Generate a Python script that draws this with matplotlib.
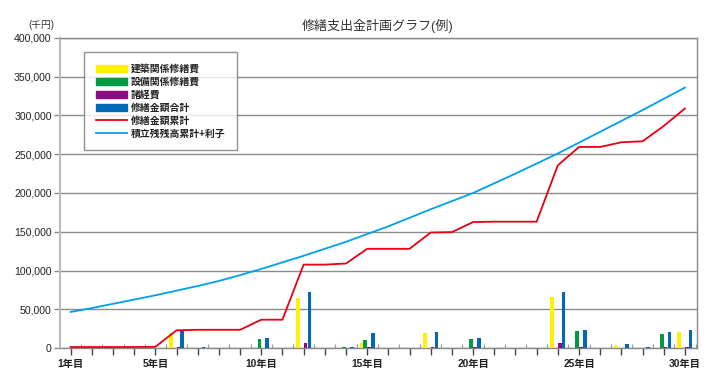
import numpy as np
import matplotlib
matplotlib.use("Agg")
import matplotlib.pyplot as plt
from matplotlib.patches import Patch
from matplotlib.lines import Line2D

plt.rcParams['font.family'] = ['Liberation Sans', 'Noto Sans CJK JP', 'DejaVu Sans']

# 年度
years = np.arange(1, 31)

# 単位: 千円
kenchiku = [0, 0, 0, 0, 0, 19500, 0, 0, 0, 0, 0, 64500, 0, 0, 7000,
            0, 0, 19400, 0, 0, 0, 0, 0, 65400, 0, 0, 4300, 0, 0, 20700]
setsubi = [0, 0, 0, 0, 0, 0, 500, 0, 0, 12000, 0, 0, 0, 800, 10500,
           0, 0, 0, 0, 11700, 500, 0, 0, 0, 21500, 0, 0, 600, 18000, 0]
shokeihi = [0, 0, 0, 0, 0, 1800, 0, 0, 0, 500, 0, 6500, 0, 0, 1500,
            0, 0, 1700, 0, 800, 0, 0, 0, 6000, 1500, 0, 300, 0, 1000, 1800]
goukei = [1000, 0, 0, 0, 500, 22500, 700, 0, 0, 12500, 0, 71800, 0, 800, 19000,
          0, 0, 21100, 0, 12900, 500, 0, 0, 72300, 23700, 0, 4600, 700, 20300, 22800]
ruikei = [1200, 1200, 1200, 1300, 1500, 22800, 23500, 23500, 23500, 36500,
          36500, 107600, 107600, 109000, 128000, 128000, 128000, 149000, 149500, 162500,
          163000, 163000, 163000, 235700, 259400, 259400, 265500, 266700, 286500, 309000]
tsumitate = [46500, 51500, 57000, 62500, 68000, 74000, 80000, 86500, 94000, 102000,
             110500, 119000, 128000, 137000, 147000, 157000, 168000, 179000, 189500, 200000,
             212500, 225000, 238000, 251000, 265000, 279000, 293000, 307000, 321500, 336000]

xlabel_years = [1, 5, 10, 15, 20, 25, 30]
yticks = [0, 50000, 100000, 150000, 200000, 250000, 300000, 350000, 400000]

c_yellow = '#FFF100'
c_green = '#009944'
c_purple = '#920783'
c_blue = '#0068B7'
c_red = '#E60012'
c_cyan = '#00A0E9'

fig = plt.figure(figsize=(7.18, 3.86), dpi=100)
ax = fig.add_axes([60 / 718, 38 / 386, 637 / 718, 310 / 386])

w = 0.17
ax.bar(years - 0.27, kenchiku, w, color=c_yellow, zorder=3)
ax.bar(years - 0.09, setsubi, w, color=c_green, zorder=3)
ax.bar(years + 0.09, shokeihi, w, color=c_purple, zorder=3)
ax.bar(years + 0.27, goukei, w, color=c_blue, zorder=3)
ax.plot(years, ruikei, color=c_red, lw=1.3, zorder=4)
ax.plot(years, tsumitate, color=c_cyan, lw=1.3, zorder=4)

ax.set_xlim(0.5, 30.57)
ax.set_ylim(0, 400000)
ax.set_yticks(yticks)
ax.set_yticklabels([f'{v:,}' for v in yticks], fontsize=7.6, color='#222222')
ax.set_xticks(years)
ax.set_xticklabels([f'{y}年目' if y in xlabel_years else '' for y in years],
                   fontsize=7.4, fontweight='bold', color='#222222')
ax.set_xticks(years + 0.5, minor=True)
ax.tick_params(axis='x', which='major', direction='out', length=5, width=1,
               color='#444444', pad=3)
ax.tick_params(axis='x', which='minor', direction='in', length=3, width=0.8,
               color='#999999')
ax.tick_params(axis='y', length=4, width=1, color='#888888', pad=2)

ax.grid(axis='y', color='#8c8c8c', lw=1, zorder=0)
for s in ['top', 'right', 'bottom']:
    ax.spines[s].set_color('#888888')
    ax.spines[s].set_linewidth(1)
ax.spines['left'].set_color('#bbbbbb')
ax.spines['left'].set_linewidth(1.5)

handles = [Patch(color=c_yellow), Patch(color=c_green), Patch(color=c_purple),
           Patch(color=c_blue), Line2D([], [], color=c_red, lw=1.3),
           Line2D([], [], color=c_cyan, lw=1.3)]
labels = ['建築関係修繕費', '設備関係修繕費', '諸経費', '修繕金額合計',
          '修繕金額累計', '積立残残高累計+利子']
leg = ax.legend(handles, labels, loc='upper left', bbox_to_anchor=(0.038, 0.955),
                fontsize=7.1, frameon=True, fancybox=False, edgecolor='#777777',
                handlelength=3.1, handleheight=0.75, handletextpad=0.4,
                labelspacing=0.3, borderpad=1.2, borderaxespad=0)
leg.get_frame().set_linewidth(1)
for t in leg.get_texts():
    t.set_fontweight('bold')
    t.set_color('#222222')

fig.text(378 / 718, 1 - 26 / 386, '修繕支出金計画グラフ(例)', ha='center', va='center',
         fontsize=9.4, color='#333333')
fig.text(41 / 718, 1 - 25 / 386, '(千円)', ha='center', va='center',
         fontsize=7, color='#333333')

fig.savefig('out.png', dpi=100)
